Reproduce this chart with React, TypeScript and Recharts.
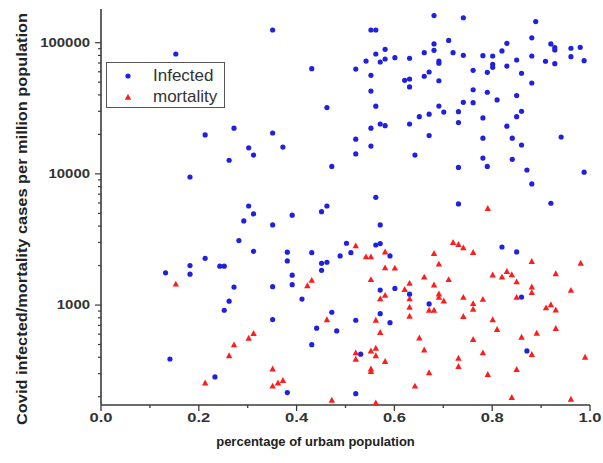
import React from 'react';
import { ScatterChart, Scatter, XAxis, YAxis, Legend } from 'recharts';

// ---------------- data ----------------
const X_TICKS = [0, 0.1, 0.2, 0.3, 0.4, 0.5, 0.6, 0.7, 0.8, 0.9, 1.0];
const X_MAJOR = [0, 0.2, 0.4, 0.6, 0.8, 1.0];
const Y_TICKS = [
  200, 300, 400, 500, 600, 700, 800, 900,
  1000, 2000, 3000, 4000, 5000, 6000, 7000, 8000, 9000,
  10000, 20000, 30000, 40000, 50000, 60000, 70000, 80000, 90000,
  100000,
];
const Y_MAJOR = [1000, 10000, 100000];
const X_DOMAIN = [0, 1];
const Y_DOMAIN = [173, 180700];

// [urban fraction, cases per million]
const INFECTED: [number, number][] = [
  [0.351, 125000], [0.153, 82000], [0.431, 63400], [0.462, 32000], [0.272, 22300],
  [0.213, 19800], [0.351, 20500], [0.302, 15800], [0.372, 16000], [0.312, 13900],
  [0.262, 12700], [0.472, 11400], [0.182, 9470], [0.302, 5690], [0.462, 5690],
  [0.681, 161000], [0.741, 155000], [0.552, 125000], [0.562, 125000], [0.711, 104000],
  [0.681, 97800], [0.581, 89100], [0.681, 87500], [0.661, 83900], [0.72, 83900],
  [0.562, 82000], [0.741, 80200], [0.601, 76900], [0.631, 76100], [0.581, 75100],
  [0.542, 72500], [0.571, 71300], [0.691, 72500], [0.691, 69700], [0.521, 63000],
  [0.552, 56400], [0.671, 59800], [0.661, 55500], [0.621, 51700], [0.631, 52900],
  [0.691, 51300], [0.631, 46000], [0.552, 42800], [0.741, 35100], [0.562, 32800],
  [0.691, 32900], [0.701, 29600], [0.731, 29800], [0.671, 28500], [0.651, 27300],
  [0.571, 24000], [0.581, 23300], [0.631, 24000], [0.731, 24600], [0.552, 22300],
  [0.671, 19600], [0.521, 18400], [0.552, 16300], [0.521, 14200], [0.642, 13900],
  [0.731, 11200], [0.562, 6630], [0.731, 5900], [0.889, 145000], [0.881, 109000],
  [0.83, 99000], [0.92, 97800], [0.928, 91600], [0.928, 88000], [0.961, 90700],
  [0.98, 92200], [0.82, 86500], [0.781, 79600], [0.801, 79200], [0.881, 79200],
  [0.961, 78200], [0.85, 73800], [0.909, 72200], [0.928, 69200], [0.801, 68500],
  [0.801, 64900], [0.988, 72900], [0.83, 66400], [0.761, 61600], [0.79, 59500],
  [0.86, 58500], [0.881, 49300], [0.761, 43800], [0.79, 41900], [0.85, 39500],
  [0.81, 36600], [0.761, 34900], [0.86, 30000], [0.85, 27300], [0.781, 26700],
  [0.83, 23100], [0.781, 18700], [0.841, 18700], [0.941, 19100], [0.86, 16600],
  [0.781, 13200], [0.841, 12900], [0.79, 11400], [0.871, 10700], [0.988, 10300],
  [0.881, 8380], [0.92, 5970], [0.312, 4950], [0.292, 4380], [0.391, 4840],
  [0.351, 4080], [0.451, 5150], [0.282, 3100], [0.312, 2570], [0.381, 2530],
  [0.431, 2510], [0.213, 2270], [0.381, 2170], [0.451, 2080], [0.462, 2120],
  [0.489, 2370], [0.182, 2000], [0.243, 1980], [0.252, 1980], [0.451, 1840],
  [0.132, 1760], [0.182, 1720], [0.391, 1690], [0.391, 1430], [0.272, 1370],
  [0.351, 1380], [0.411, 1110], [0.262, 1070], [0.252, 913], [0.472, 881],
  [0.351, 775], [0.441, 666], [0.482, 635], [0.431, 499], [0.141, 388],
  [0.233, 283], [0.381, 215], [0.571, 4080], [0.502, 2960], [0.562, 2870],
  [0.571, 2940], [0.511, 2510], [0.591, 2370], [0.571, 1300], [0.601, 1340],
  [0.631, 1210], [0.671, 1020], [0.571, 860], [0.521, 766], [0.591, 734],
  [0.531, 422], [0.521, 211], [0.82, 2770], [0.85, 2540], [0.86, 1150],
  [0.871, 447],
];

const MORTALITY: [number, number][] = [
  [0.153, 1450], [0.302, 561], [0.312, 610], [0.272, 499], [0.262, 412],
  [0.213, 256], [0.351, 327], [0.351, 242], [0.362, 256], [0.372, 267],
  [0.462, 775], [0.472, 189], [0.431, 1550], [0.422, 1410], [0.521, 2840],
  [0.542, 2340], [0.552, 2340], [0.581, 2550], [0.581, 1930], [0.601, 1920],
  [0.552, 1570], [0.571, 1120], [0.581, 1190], [0.621, 1320], [0.631, 1470],
  [0.631, 1120], [0.661, 1640], [0.681, 2480], [0.691, 2060], [0.681, 1430],
  [0.711, 1570], [0.691, 1220], [0.691, 1150], [0.701, 1080], [0.671, 918],
  [0.681, 918], [0.741, 1150], [0.741, 821], [0.631, 967], [0.631, 826],
  [0.562, 770], [0.571, 620], [0.651, 564], [0.661, 457], [0.562, 471],
  [0.552, 449], [0.562, 412], [0.521, 434], [0.521, 388], [0.581, 373],
  [0.552, 327], [0.552, 313], [0.731, 395], [0.731, 342], [0.671, 306],
  [0.642, 242], [0.562, 180], [0.791, 5470], [0.761, 2530], [0.881, 2160],
  [0.981, 2090], [0.801, 1700], [0.82, 1640], [0.83, 1810], [0.84, 1710],
  [0.85, 1510], [0.93, 1740], [0.881, 1380], [0.881, 1250], [0.961, 1300],
  [0.85, 1150], [0.781, 1110], [0.761, 1030], [0.761, 934], [0.92, 1010],
  [0.91, 956], [0.93, 922], [0.801, 775], [0.81, 654], [0.93, 666],
  [0.891, 613], [0.86, 571], [0.761, 549], [0.781, 434], [0.881, 422],
  [0.99, 402], [0.85, 324], [0.791, 297], [0.84, 198], [0.961, 192],
  [0.72, 3010], [0.731, 2910], [0.741, 2740],
];

const SERIES_NAMES = ['Infected', 'mortality'];
const X_TITLE = 'percentage of urbam population';
const Y_TITLE = 'Covid infected/mortality cases per million population';

// ---------------- styles ----------------
const FONT = '"Liberation Sans", Arial, Helvetica, sans-serif';
const BLUE = '#2020e0';
const RED = '#ff1c1c';
const AXIS = '#3a3a3a';

const toPoints = (arr: [number, number][]) => arr.map(([x, y]) => ({ x, y }));
const infectedData = toPoints(INFECTED);
const mortalityData = toPoints(MORTALITY);

const isIn = (list: number[], v: number) => list.some((m) => Math.abs(m - v) < 1e-9);

const DotShape = (p: any) => <circle cx={p.cx} cy={p.cy} r={2.6} fill={BLUE} />;
const TriShape = (p: any) => {
  const { cx, cy } = p;
  const s = 3.2;
  return (
    <polygon
      points={`${cx},${cy - s} ${cx + s},${cy + s * 0.85} ${cx - s},${cy + s * 0.85}`}
      fill={RED}
    />
  );
};

const BottomTick = (p: any) => {
  const { x, y, payload } = p;
  const major = isIn(X_MAJOR, payload.value);
  return (
    <g>
      <line x1={x} y1={y} x2={x} y2={y + (major ? 6 : 3)} stroke={AXIS} strokeWidth={1.3} />
      {major && (
        <text
          x={x}
          y={y + 17}
          textAnchor="middle"
          fontFamily={FONT}
          fontSize={12}
          fontWeight="bold"
          fill="#333"
          textLength={23}
          lengthAdjust="spacingAndGlyphs"
        >
          {payload.value.toFixed(1)}
        </text>
      )}
    </g>
  );
};

const TopTick = (p: any) => {
  const { x, y, payload } = p;
  const major = isIn(X_MAJOR, payload.value);
  return <line x1={x} y1={y} x2={x} y2={y + (major ? 5 : 3)} stroke={AXIS} strokeWidth={1} />;
};

const LeftTick = (p: any) => {
  const { x, y, payload } = p;
  const major = isIn(Y_MAJOR, payload.value);
  const label = String(payload.value);
  return (
    <g>
      <line x1={x} y1={y} x2={x - (major ? 6 : 3)} y2={y} stroke={AXIS} strokeWidth={1.2} />
      {major && (
        <text
          x={x - 11}
          y={y}
          dy="0.36em"
          textAnchor="end"
          fontFamily={FONT}
          fontSize={12}
          fontWeight="bold"
          fill="#333"
          textLength={label.length * 8.3}
          lengthAdjust="spacingAndGlyphs"
        >
          {label}
        </text>
      )}
    </g>
  );
};

const RightTick = (p: any) => {
  const { x, y, payload } = p;
  const major = isIn(Y_MAJOR, payload.value);
  return <line x1={x} y1={y} x2={x - (major ? 6 : 3)} y2={y} stroke={AXIS} strokeWidth={1} />;
};

const XTitle = (p: any) => {
  const vb = p.viewBox || {};
  return (
    <text
      x={vb.x + vb.width / 2 - 30}
      y={vb.y + 41}
      textAnchor="middle"
      fontFamily={FONT}
      fontSize={13}
      fontWeight="bold"
      fill="#222"
    >
      {X_TITLE}
    </text>
  );
};

const YTitle = (p: any) => {
  const vb = p.viewBox || {};
  const cx = vb.x + 21;
  const cy = vb.y + vb.height / 2 + 12;
  return (
    <text
      x={cx}
      y={cy}
      transform={`rotate(-90, ${cx}, ${cy})`}
      textAnchor="middle"
      dominantBaseline="central"
      fontFamily={FONT}
      fontSize={15}
      fontWeight="bold"
      fill="#222"
      textLength={412}
      lengthAdjust="spacingAndGlyphs"
    >
      {Y_TITLE}
    </text>
  );
};

const LegendBox = (props: any) => {
  const payload = props.payload || [];
  return (
    <div
      style={{
        width: 117,
        height: 44,
        border: '1px solid #555',
        background: '#fff',
        position: 'relative',
        fontFamily: FONT,
        fontSize: 17,
        color: '#333',
      }}
    >
      {payload.map((e: any, i: number) => (
        <div
          key={i}
          style={{
            position: 'absolute',
            left: 0,
            top: 3 + i * 21,
            height: 20,
            display: 'flex',
            alignItems: 'center',
            whiteSpace: 'nowrap',
          }}
        >
          <svg width={44} height={20} style={{ display: 'block' }}>
            {e.value === SERIES_NAMES[0] ? (
              <DotShape cx={21} cy={10} />
            ) : (
              <TriShape cx={21} cy={10} />
            )}
          </svg>
          <span style={{ marginLeft: 2, lineHeight: '20px' }}>{e.value}</span>
        </div>
      ))}
    </div>
  );
};

export default function App() {
  return (
    <div style={{ position: 'absolute', left: 0, top: 0, background: '#fff' }}>
      <ScatterChart width={603} height={463} margin={{ top: 9, right: 13, bottom: 0, left: 0 }}>
        <XAxis
          xAxisId="bottom"
          dataKey="x"
          type="number"
          domain={X_DOMAIN}
          ticks={X_TICKS}
          interval={0}
          allowDataOverflow
          height={58}
          tickSize={0}
          tickMargin={0}
          tickLine={false}
          tick={<BottomTick />}
          axisLine={{ stroke: AXIS, strokeWidth: 1.6 }}
          label={{ content: <XTitle /> }}
        />
        <XAxis
          xAxisId="top"
          orientation="top"
          dataKey="x"
          type="number"
          domain={X_DOMAIN}
          ticks={X_TICKS}
          interval={0}
          allowDataOverflow
          height={0}
          tickSize={0}
          tickMargin={0}
          tickLine={false}
          tick={<TopTick />}
          axisLine={{ stroke: AXIS, strokeWidth: 1.3 }}
        />
        <YAxis
          yAxisId="left"
          dataKey="y"
          type="number"
          scale="log"
          domain={Y_DOMAIN}
          ticks={Y_TICKS}
          interval={0}
          allowDataOverflow
          width={101}
          tickSize={0}
          tickMargin={0}
          tickLine={false}
          tick={<LeftTick />}
          axisLine={{ stroke: AXIS, strokeWidth: 1.6 }}
          label={{ content: <YTitle /> }}
        />
        <YAxis
          yAxisId="right"
          orientation="right"
          dataKey="y"
          type="number"
          scale="log"
          domain={Y_DOMAIN}
          ticks={Y_TICKS}
          interval={0}
          allowDataOverflow
          width={0}
          tickSize={0}
          tickMargin={0}
          tickLine={false}
          tick={<RightTick />}
          axisLine={{ stroke: AXIS, strokeWidth: 1.3 }}
        />
        <Legend
          layout="vertical"
          verticalAlign="middle"
          align="center"
          content={<LegendBox />}
          wrapperStyle={{ left: 106, top: 62, width: 119, height: 46 }}
        />
        <Scatter
          name={SERIES_NAMES[0]}
          data={infectedData}
          xAxisId="bottom"
          yAxisId="left"
          fill={BLUE}
          shape={<DotShape />}
          isAnimationActive={false}
        />
        <Scatter
          name={SERIES_NAMES[1]}
          data={mortalityData}
          xAxisId="bottom"
          yAxisId="left"
          fill={RED}
          shape={<TriShape />}
          isAnimationActive={false}
        />
      </ScatterChart>
    </div>
  );
}
